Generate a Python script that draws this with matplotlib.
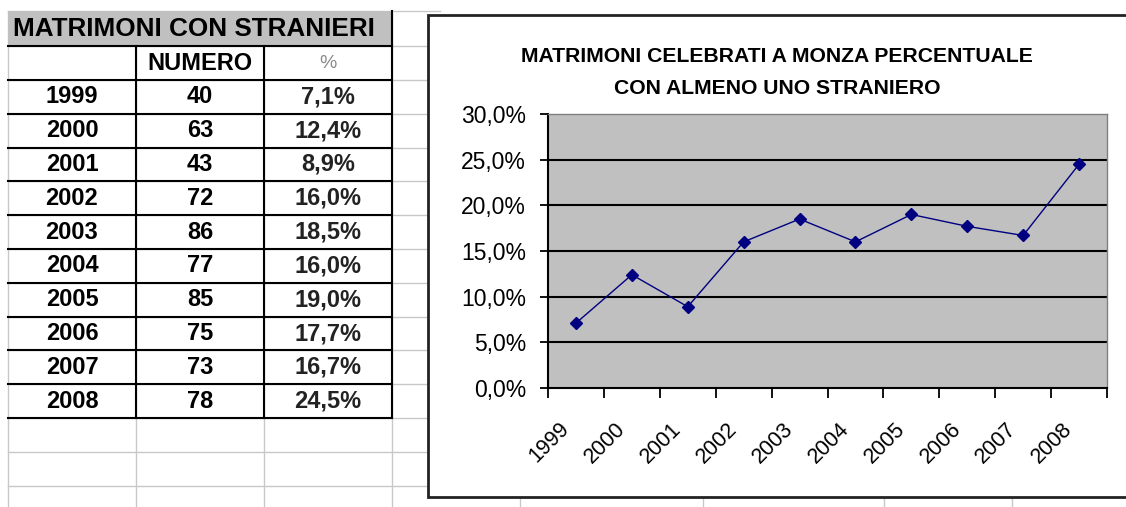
import numpy as np
import matplotlib
matplotlib.use('Agg')
import matplotlib.pyplot as plt
from matplotlib.patches import Rectangle
from matplotlib.transforms import ScaledTranslation

years = ['1999', '2000', '2001', '2002', '2003', '2004', '2005', '2006', '2007', '2008']
numero = [40, 63, 43, 72, 86, 77, 85, 75, 73, 78]
percent = [7.1, 12.4, 8.9, 16.0, 18.5, 16.0, 19.0, 17.7, 16.7, 24.5]

table_title = 'MATRIMONI CON STRANIERI'
col_headers = ['', 'NUMERO', '%']
chart_title = ['MATRIMONI CELEBRATI A MONZA PERCENTUALE', 'CON ALMENO UNO STRANIERO']
y_ticks = [0, 5, 10, 15, 20, 25, 30]

W, H, DPI = 1126, 507, 100
FONT = 'Liberation Sans'
NAVY = '#000080'
GRAY = '#c0c0c0'
CELL = '#c8c8c8'


def it_pct(v):
    """Italian style percent label, 7,1%"""
    return ('%.1f%%' % v).replace('.', ',')


def px_axes(fig, left, top, right, bottom):
    """Adds an axes given in pixel coordinates (origin top left)."""
    return fig.add_axes([left / W, 1 - bottom / H,
                         (right - left) / W, (bottom - top) / H])


fig = plt.figure(figsize=(W / DPI, H / DPI), dpi=DPI)
fig.patch.set_facecolor('white')

# background: the spreadsheet, in pixel coordinates
bg = fig.add_axes([0, 0, 1, 1], zorder=0)
bg.set_xlim(0, W)
bg.set_ylim(H, 0)
bg.axis('off')

col_x = [8, 136, 264, 392]
row_top = 80
row_h = 33.8
n = len(years)
table_bottom = row_top + n * row_h

# light cell grid of the sheet
for y in [11, 46] + [row_top + i * row_h for i in range(n + 4)]:
    bg.plot([8, 440], [y, y], color=CELL, lw=1, zorder=1)
for x in col_x:
    bg.plot([x, x], [11, H], color=CELL, lw=1, zorder=1)
for x in [520, 703, 884, 1012]:
    bg.plot([x, x], [480, H], color=CELL, lw=1, zorder=1)

# table title bar
bg.add_patch(Rectangle((8, 11), 384, 35, facecolor=GRAY, edgecolor='none', zorder=2))
bg.text(13, 29, table_title, fontsize=18.8, fontweight='bold', family=FONT,
        ha='left', va='center', zorder=3)

# table borders
for i in range(n + 2):
    y = 46 + (row_top - 46) * (i > 0) + row_h * max(i - 1, 0)
    bg.plot([8, 392], [y, y], color='black', lw=1.5, zorder=3)
for x in col_x[1:]:
    bg.plot([x, x], [46, table_bottom], color='black', lw=1.5, zorder=3)
bg.plot([392, 392], [11, 46], color='black', lw=1.5, zorder=3)

centers = [(col_x[j] + col_x[j + 1]) / 2 for j in range(3)]
bg.text(centers[1], 63, col_headers[1], fontsize=17, fontweight='bold',
        family=FONT, ha='center', va='center', zorder=3)
bg.text(centers[2], 63, col_headers[2], fontsize=14, color='#8a8a8a',
        family=FONT, ha='center', va='center', zorder=3)

for i in range(n):
    yc = row_top + (i + 0.5) * row_h
    bg.text(centers[0], yc, years[i], fontsize=17, fontweight='bold',
            family=FONT, ha='center', va='center', zorder=3)
    bg.text(centers[1], yc, str(numero[i]), fontsize=17, fontweight='bold',
            family=FONT, ha='center', va='center', zorder=3)
    bg.text(centers[2], yc, it_pct(percent[i]), fontsize=17, fontweight='bold',
            color='#222222', family=FONT, ha='center', va='center', zorder=3)

# chart area box, running off the right edge of the screenshot
bg.add_patch(Rectangle((428, 15), 900, 482, facecolor='white',
                       edgecolor='#222222', lw=2, zorder=4))
for k, line in enumerate(chart_title):
    bg.text(777, 56 + 33 * k, line, fontsize=15.2, fontweight='bold',
            family=FONT, ha='center', va='center', zorder=5)

# the line chart
ax = px_axes(fig, 548, 114, 1107, 388)
ax.set_zorder(6)
ax.set_facecolor(GRAY)

x = np.arange(n)
ax.plot(x, np.array(percent) / 100, color=NAVY, lw=1, marker='D',
        markersize=6.5, markerfacecolor=NAVY, markeredgecolor=NAVY, zorder=4)

ax.set_xlim(-0.5, n - 0.5)
ax.set_ylim(0, 0.30)

ax.set_yticks(np.array(y_ticks) / 100)
ax.set_yticklabels([it_pct(v) for v in y_ticks], family=FONT, fontsize=16.5)
ax.tick_params(axis='y', length=5.8, width=1.3, pad=10, color='black')

ax.set_xticks(x)
ax.set_xticklabels(years, rotation=45, ha='right', va='top',
                   rotation_mode='anchor', family=FONT, fontsize=15.5)
ax.tick_params(axis='x', which='major', length=0, pad=22)
ax.set_xticks(np.arange(-0.5, n, 1), minor=True)
ax.tick_params(axis='x', which='minor', length=7.2, width=1.3, color='black')
shift = ScaledTranslation(-17 / DPI, 0, fig.dpi_scale_trans)
for lbl in ax.get_xticklabels():
    lbl.set_transform(lbl.get_transform() + shift)

ax.yaxis.grid(True, color='black', lw=1.5)
ax.set_axisbelow(True)
ticks = ax.yaxis.get_major_ticks()
ticks[0].gridline.set_visible(False)
ticks[-1].gridline.set_visible(False)

for side in ['left', 'bottom']:
    ax.spines[side].set_color('black')
    ax.spines[side].set_linewidth(1.5)
for side in ['top', 'right']:
    ax.spines[side].set_color('#808080')
    ax.spines[side].set_linewidth(1)

fig.savefig('out.png', dpi=DPI)
